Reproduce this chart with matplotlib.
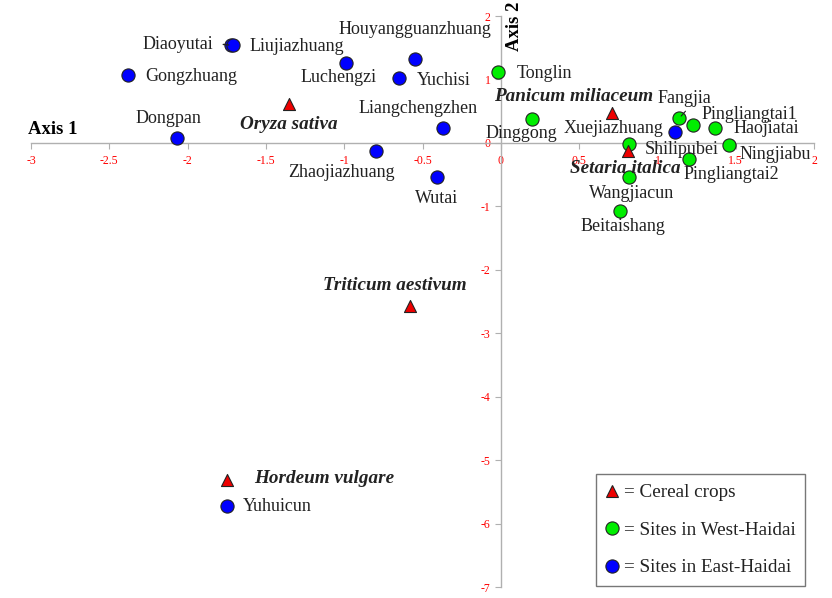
import matplotlib
matplotlib.use("Agg")
import matplotlib.pyplot as plt
from matplotlib.lines import Line2D

# ---- data ----
east_names = ["Diaoyutai", "Liujiazhuang", "Gongzhuang", "Luchengzi", "Houyangguanzhuang",
              "Yuchisi", "Dongpan", "Liangchengzhen", "Zhaojiazhuang", "Wutai",
              "Xuejiazhuang", "Yuhuicun"]
east_x = [-1.72, -1.71, -2.38, -0.99, -0.55, -0.65, -2.07, -0.37, -0.80, -0.41, 1.11, -1.75]
east_y = [1.54, 1.54, 1.07, 1.26, 1.32, 1.02, 0.08, 0.24, -0.13, -0.54, 0.17, -5.72]

west_names = ["Tonglin", "Dinggong", "Fangjia", "Pingliangtai1", "Haojiatai", "Ningjiabu",
              "Shilipubei", "Pingliangtai2", "Wangjiacun", "Beitaishang"]
west_x = [-0.02, 0.20, 1.14, 1.23, 1.37, 1.46, 0.82, 1.20, 0.82, 0.76]
west_y = [1.12, 0.38, 0.39, 0.28, 0.24, -0.03, -0.02, -0.25, -0.54, -1.07]

crop_names = ["Oryza sativa", "Panicum miliaceum", "Setaria italica", "Triticum aestivum",
              "Hordeum vulgare"]
crop_x = [-1.35, 0.71, 0.81, -0.58, -1.75]
crop_y = [0.61, 0.47, -0.13, -2.57, -5.32]

xticks = [-3, -2.5, -2, -1.5, -1, -0.5, 0, 0.5, 1, 1.5, 2]
yticks = [-7, -6, -5, -4, -3, -2, -1, 0, 1, 2]
legend_labels = ["= Cereal crops", "= Sites in West-Haidai", "= Sites in East-Haidai"]

# ---- label layout (pixel offsets, alignment) ----
east_lab = {
    "Diaoyutai": (-18, 1, "right"), "Liujiazhuang": (17, -1, "left"),
    "Gongzhuang": (17, -1, "left"), "Luchengzi": (-7, -15, "center"),
    "Houyangguanzhuang": (0, 30, "center"), "Yuchisi": (18, -2, "left"),
    "Dongpan": (-8, 19, "center"), "Liangchengzhen": (-25, 19, "center"),
    "Zhaojiazhuang": (-34, -21, "center"), "Wutai": (0, -21, "center"),
    "Xuejiazhuang": (-11, 4, "right"), "Yuhuicun": (16, -1, "left"),
}
west_lab = {
    "Tonglin": (19, -2, "left"), "Dinggong": (-11, -15, "center"),
    "Fangjia": (5, 20, "center"), "Pingliangtai1": (8, 11, "left"),
    "Haojiatai": (18, -1, "left"), "Ningjiabu": (10, -10, "left"),
    "Shilipubei": (16, -5, "left"), "Pingliangtai2": (-5, -16, "left"),
    "Wangjiacun": (2, -16, "center"), "Beitaishang": (3, -16, "center"),
}
crop_lab = {
    "Oryza sativa": (-1, -20, "center"), "Panicum miliaceum": (-38, 17, "center"),
    "Setaria italica": (-2, -17, "center"), "Triticum aestivum": (-15, 20, "center"),
    "Hordeum vulgare": (27, 2, "left"),
}

plt.rcParams["font.family"] = ["Liberation Serif", "DejaVu Serif"]

fig = plt.figure(figsize=(8.32, 5.98), dpi=100)
ax = fig.add_axes([31 / 832, 1 - 587 / 598, (814 - 31) / 832, (587 - 16) / 598])

ax.set_xlim(-3, 2)
ax.set_ylim(-7, 2)
for s in ["top", "right"]:
    ax.spines[s].set_visible(False)
ax.spines["left"].set_position(("data", 0))
ax.spines["bottom"].set_position(("data", 0))
for s in ["left", "bottom"]:
    ax.spines[s].set_color("#b0b0b0")
    ax.spines[s].set_linewidth(1.0)
ax.set_xticks(xticks)
ax.set_yticks(yticks)
ax.set_xticklabels([f"{t:g}" for t in xticks])
ax.set_yticklabels([f"{t:g}" for t in yticks])
ax.tick_params(axis="both", colors="#b0b0b0", labelcolor="red", labelsize=8.5,
               direction="out", length=4)
ax.tick_params(axis="x", pad=4.5)

txt_kw = dict(color="#222222", textcoords="offset pixels", va="center")

ax.scatter(east_x, east_y, s=90, c="#0000ff", edgecolors="#222222", linewidths=0.8, zorder=3)
for n, x, y in zip(east_names, east_x, east_y):
    dx, dy, ha = east_lab[n]
    ax.annotate(n, (x, y), xytext=(dx, dy), ha=ha, fontsize=13, **txt_kw)

ax.scatter(west_x, west_y, s=90, c="#00ee00", edgecolors="#222222", linewidths=0.8, zorder=3)
for n, x, y in zip(west_names, west_x, west_y):
    dx, dy, ha = west_lab[n]
    ax.annotate(n, (x, y), xytext=(dx, dy), ha=ha, fontsize=13, **txt_kw)

ax.scatter(crop_x, crop_y, s=75, marker="^", c="#ee0000", edgecolors="#222222",
           linewidths=0.8, zorder=3)
for n, x, y in zip(crop_names, crop_x, crop_y):
    dx, dy, ha = crop_lab[n]
    ax.annotate(n, (x, y), xytext=(dx, dy), ha=ha, fontsize=13.8, fontweight="bold",
                fontstyle="italic", **txt_kw)

# leader lines
i = east_names.index("Diaoyutai")
ax.annotate("", (east_x[i], east_y[i]), xytext=(-11, 1), textcoords="offset pixels",
            arrowprops=dict(arrowstyle="-", color="#222222", lw=1))
j = west_names.index("Fangjia")
ax.annotate("", (west_x[j], west_y[j]), xytext=(8, 9), textcoords="offset pixels",
            arrowprops=dict(arrowstyle="-", color="#222222", lw=0.8, shrinkB=2))

# axis titles
ax.text(-3.02, 0.08, "Axis 1", fontsize=13.5, fontweight="bold", ha="left", va="bottom")
ax.text(0.035, 2.22, "Axis 2", fontsize=13.5, fontweight="bold", rotation=90,
        ha="left", va="top")

# legend
handles = [
    Line2D([], [], marker="^", ls="", ms=8.5, mfc="#ee0000", mec="#222222", mew=0.8),
    Line2D([], [], marker="o", ls="", ms=9.5, mfc="#00ee00", mec="#222222", mew=0.8),
    Line2D([], [], marker="o", ls="", ms=9.5, mfc="#0000ff", mec="#222222", mew=0.8),
]
leg = ax.legend(handles, legend_labels, loc="lower right", bbox_to_anchor=(1 - 9 / 783, 1 / 571),
                fontsize=13.8, frameon=True, fancybox=False, edgecolor="#555555",
                handlelength=0.6, handletextpad=0.32, labelspacing=1.05,
                borderpad=0.5, borderaxespad=0)
leg.get_frame().set_linewidth(1.0)
for t in leg.get_texts():
    t.set_color("#222222")

fig.savefig("out.png", dpi=100)
